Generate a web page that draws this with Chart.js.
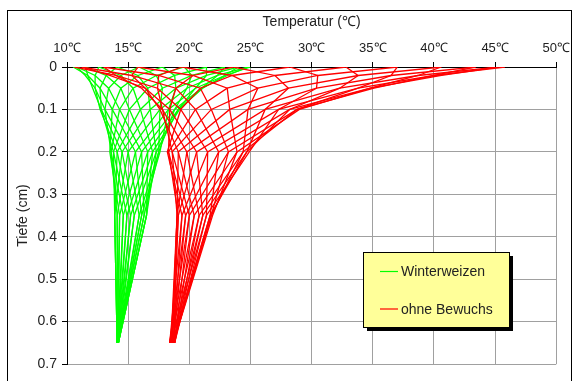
<!DOCTYPE html>
<html>
<head>
<meta charset="utf-8">
<script src="https://cdn.jsdelivr.net/npm/chart.js@4.4.1/dist/chart.umd.min.js"></script>
<style>
  html, body { margin: 0; padding: 0; background: #fff; }
  #wrap { position: relative; width: 576px; height: 381px; }
  #frame { position: absolute; left: 7px; top: 10px; width: 565px; height: 372px; border: 1px solid #000; box-sizing: border-box; pointer-events: none; }
</style>
</head>
<body>
<div id="wrap">
  <canvas id="chart" width="576" height="381"></canvas>
  <div id="frame"></div>
</div>
<script>
// Tiefen der Messpunkte
const depths = [0, 0.02, 0.05, 0.1, 0.2, 0.35, 0.65];

// Temperaturprofile Winterweizen (eine Zeile je Stunde)
const winterweizen = [
  [17.8, 15.8, 14.4, 13.7, 13.5, 14.3, 14.2],
  [19.6, 17.3, 15.4, 14.3, 13.6, 14.1, 14.2],
  [21.4, 18.8, 16.6, 15.1, 13.8, 13.9, 14.1],
  [22.9, 20.2, 17.8, 16.0, 14.1, 13.9, 14.1],
  [24.0, 21.4, 18.9, 16.8, 14.5, 13.9, 14.1],
  [24.8, 22.3, 19.8, 17.6, 15.0, 14.1, 14.1],
  [25.0, 22.9, 20.5, 18.3, 15.6, 14.3, 14.1],
  [24.8, 23.1, 21.0, 18.8, 16.1, 14.6, 14.1],
  [24.0, 22.9, 21.1, 19.1, 16.6, 14.9, 14.1],
  [22.9, 22.3, 21.0, 19.2, 17.0, 15.2, 14.1],
  [21.4, 21.4, 20.5, 19.1, 17.3, 15.5, 14.1],
  [19.6, 20.2, 19.8, 18.8, 17.5, 15.9, 14.1],
  [17.8, 18.8, 18.9, 18.3, 17.6, 16.1, 14.1],
  [15.9, 17.3, 17.8, 17.6, 17.5, 16.3, 14.1],
  [14.1, 15.8, 16.6, 16.8, 17.3, 16.5, 14.2],
  [12.6, 14.4, 15.4, 16.0, 17.0, 16.5, 14.2],
  [11.5, 13.2, 14.4, 15.1, 16.6, 16.5, 14.2],
  [10.8, 12.3, 13.4, 14.3, 16.1, 16.3, 14.2],
  [10.5, 11.7, 12.7, 13.7, 15.6, 16.1, 14.2],
  [10.8, 11.5, 12.3, 13.1, 15.0, 15.9, 14.2],
  [11.5, 11.7, 12.1, 12.8, 14.5, 15.5, 14.2],
  [12.6, 12.3, 12.3, 12.7, 14.1, 15.2, 14.2],
  [14.1, 13.2, 12.7, 12.8, 13.8, 14.9, 14.2],
  [15.9, 14.4, 13.4, 13.1, 13.6, 14.6, 14.2]
];

// Temperaturprofile ohne Bewuchs
const ohneBewuchs = [
  [28.2, 23.5, 20.9, 19.3, 18.2, 19.4, 18.7],
  [32.8, 27.0, 23.1, 20.5, 18.3, 19.1, 18.7],
  [37.0, 30.5, 25.6, 21.8, 18.6, 19.0, 18.6],
  [40.6, 33.8, 28.1, 23.3, 19.1, 19.0, 18.6],
  [43.4, 36.5, 30.4, 24.8, 19.8, 19.0, 18.5],
  [45.2, 38.7, 32.3, 26.2, 20.6, 19.1, 18.5],
  [45.8, 40.0, 33.8, 27.3, 21.5, 19.4, 18.4],
  [45.2, 40.5, 34.8, 28.2, 22.4, 19.7, 18.4],
  [43.4, 40.0, 35.1, 28.8, 23.2, 20.0, 18.4],
  [40.6, 38.7, 34.8, 29.0, 23.9, 20.4, 18.4],
  [37.0, 36.5, 33.8, 28.8, 24.4, 20.8, 18.4],
  [32.8, 33.8, 32.3, 28.2, 24.7, 21.1, 18.5],
  [28.2, 30.5, 30.4, 27.3, 24.9, 21.4, 18.5],
  [23.6, 27.0, 28.1, 26.2, 24.7, 21.7, 18.6],
  [19.4, 23.5, 25.6, 24.8, 24.4, 21.8, 18.6],
  [15.8, 20.3, 23.1, 23.3, 23.9, 21.9, 18.7],
  [13.0, 17.5, 20.9, 21.8, 23.2, 21.8, 18.7],
  [11.2, 15.3, 18.9, 20.5, 22.4, 21.7, 18.7],
  [10.6, 14.0, 17.4, 19.3, 21.5, 21.4, 18.8],
  [11.2, 13.5, 16.4, 18.4, 20.6, 21.1, 18.8],
  [13.0, 14.0, 16.1, 17.8, 19.8, 20.8, 18.8],
  [15.8, 15.3, 16.4, 17.6, 19.1, 20.4, 18.8],
  [19.4, 17.5, 17.4, 17.8, 18.6, 20.0, 18.8],
  [23.6, 20.3, 18.9, 18.4, 18.3, 19.7, 18.7]
];

const legendItems = [
  { label: 'Winterweizen', color: '#00ff00' },
  { label: 'ohne Bewuchs', color: '#ff0000' }
];

const FONT = 'Arial, "Liberation Sans", sans-serif';

const toPoints = temps => temps.map((t, i) => ({ x: t, y: depths[i] }));

const makeSet = (temps, color) => ({
  data: toPoints(temps),
  borderColor: color,
  borderWidth: 1.3,
  pointRadius: 0,
  showLine: true,
  fill: false,
  tension: 0
});

// rot zuerst -> liegt oben
const datasets = [
  ...ohneBewuchs.map(p => makeSet(p, '#ff0000')),
  ...winterweizen.map(p => makeSet(p, '#00ff00'))
];

const legendBox = {
  id: 'legendBox',
  afterDraw(chart) {
    const ctx = chart.ctx;
    ctx.save();
    ctx.fillStyle = '#000';
    ctx.fillRect(367, 256, 146, 75);
    ctx.fillStyle = '#ffff99';
    ctx.fillRect(363, 252, 146, 75);
    ctx.strokeStyle = '#000';
    ctx.lineWidth = 1;
    ctx.strokeRect(363.5, 252.5, 146, 75);
    ctx.font = '14px ' + FONT;
    ctx.textBaseline = 'middle';
    legendItems.forEach((item, i) => {
      const y = 271.5 + i * 37.5;
      ctx.strokeStyle = item.color;
      ctx.lineWidth = 1.2;
      ctx.beginPath();
      ctx.moveTo(380, y);
      ctx.lineTo(398, y);
      ctx.stroke();
      ctx.fillStyle = '#222';
      ctx.fillText(item.label, 401, y + 1);
    });
    ctx.restore();
  }
};

new Chart(document.getElementById('chart'), {
  type: 'scatter',
  data: { datasets },
  options: {
    responsive: false,
    animation: false,
    layout: { padding: { left: 0, top: 0, right: 18, bottom: 17 } },
    plugins: { legend: { display: false }, tooltip: { enabled: false } },
    scales: {
      x: {
        type: 'linear',
        position: 'top',
        min: 10,
        max: 50,
        afterFit: s => { s.height = 67; },
        ticks: {
          stepSize: 5,
          color: '#222',
          padding: 6,
          font: { size: 13, family: FONT },
          maxRotation: 0,
          callback: v => v + '℃'
        },
        grid: { color: '#a0a0a0', tickColor: '#000', tickLength: 5, lineWidth: 1 },
        border: { color: '#000', width: 1 },
        title: {
          display: true,
          text: 'Temperatur (℃)',
          color: '#222',
          font: { size: 14, family: FONT },
          padding: { top: 14, bottom: 0 }
        }
      },
      y: {
        type: 'linear',
        reverse: true,
        min: 0,
        max: 0.7,
        afterFit: s => { s.width = 67; },
        ticks: {
          stepSize: 0.1,
          color: '#222',
          padding: 5,
          font: { size: 14, family: FONT },
          callback: v => v === 0 ? '0' : v.toFixed(1)
        },
        grid: { color: '#a0a0a0', tickColor: '#000', tickLength: 5, lineWidth: 1 },
        border: { color: '#000', width: 1 },
        title: {
          display: true,
          text: 'Tiefe (cm)',
          color: '#222',
          font: { size: 14, family: FONT },
          padding: { top: 15, bottom: 0 }
        }
      }
    }
  },
  plugins: [legendBox]
});
</script>
</body>
</html>
